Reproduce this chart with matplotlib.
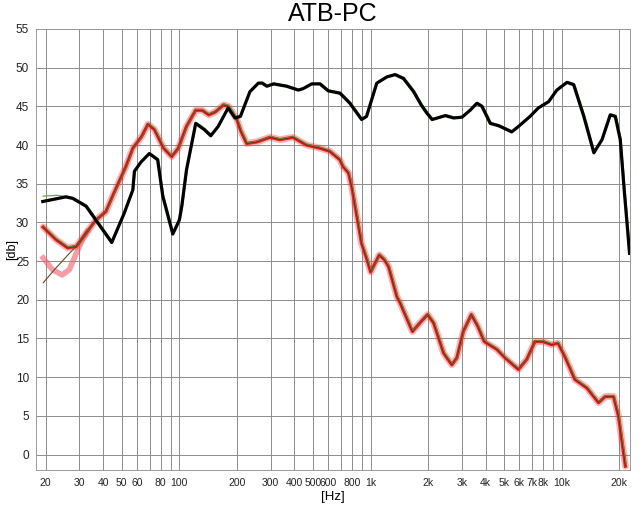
import matplotlib
matplotlib.use("Agg")
import matplotlib.pyplot as plt
import matplotlib.transforms as mtransforms
from matplotlib.ticker import FixedLocator, NullFormatter

plt.rcParams["font.family"] = ["Liberation Sans", "DejaVu Sans"]

# black curve (upper)
black_f = [19.3, 25.5, 27.7, 32.5, 36.6, 44.3, 51.5, 57.1, 58.2, 63, 69.6, 77, 81.9,
           92.4, 100, 103, 109, 121.8, 135, 146, 159.6, 180, 195.5, 208.6, 234, 259,
           271, 287, 311, 364, 419, 445, 492, 544, 601, 692, 780, 898, 953, 1078, 1217,
           1344, 1487, 1680, 1839, 1974, 2100, 2463, 2720, 3010, 3320, 3600, 3825, 4230,
           4670, 5480, 5940, 6830, 7550, 8540, 9430, 10650, 11550, 13050, 14730, 16250,
           17950, 19070, 20240, 21230, 22640]
black_db = [32.7, 33.3, 33.1, 32.1, 30.3, 27.4, 31.2, 34.2, 36.6, 37.8, 38.9, 38.1, 33.4,
            28.5, 30.3, 32.1, 36.8, 42.8, 42.0, 41.2, 42.4, 44.8, 43.5, 43.7, 46.9, 48.0,
            48.0, 47.6, 47.9, 47.6, 47.1, 47.3, 47.9, 47.9, 47.0, 46.7, 45.4, 43.3, 43.7,
            48.0, 48.8, 49.1, 48.6, 46.9, 45.2, 44.1, 43.3, 43.8, 43.5, 43.6, 44.5, 45.4,
            45.0, 42.8, 42.5, 41.7, 42.4, 43.7, 44.8, 45.6, 47.1, 48.1, 47.8, 43.7, 39.0,
            40.7, 43.9, 43.7, 40.7, 34.2, 26.0]

# red curve (lower)
red_f = [19.4, 22.6, 26.1, 28.9, 32.5, 36.6, 41.3, 45.5, 52.5, 57.2, 63.5, 68.6, 74.1,
         82.8, 91.3, 98.8, 109, 121.8, 131.8, 142.7, 154.5, 170.6, 181, 200, 210, 225,
         254, 298, 336, 393, 463, 544, 612, 692, 719, 767, 798, 849, 898, 953, 1002,
         1112, 1180, 1243, 1375, 1430, 1657, 1840, 1990, 2140, 2415, 2665, 2830, 3060,
         3370, 3640, 3940, 4580, 5060, 5940, 6570, 7250, 8000, 8840, 9570, 10380, 11730,
         13560, 15590, 16890, 18690, 19840, 21550]
red_db = [29.4, 27.8, 26.7, 26.9, 28.6, 30.3, 31.4, 33.8, 37.2, 39.6, 41.1, 42.7, 42.0,
          39.6, 38.5, 39.6, 42.4, 44.5, 44.5, 43.9, 44.3, 45.2, 45.0, 43.3, 41.8, 40.2,
          40.4, 41.0, 40.7, 41.0, 40.0, 39.6, 39.2, 38.1, 37.2, 36.4, 34.6, 30.8, 27.3,
          25.4, 23.6, 25.8, 25.2, 24.3, 20.4, 19.6, 15.9, 17.2, 18.1, 17.0, 13.1, 11.6,
          12.5, 15.9, 18.1, 16.6, 14.6, 13.6, 12.5, 11.0, 12.3, 14.6, 14.6, 14.2, 14.4,
          12.7, 9.7, 8.6, 6.7, 7.5, 7.5, 4.9, -1.5]

# low-frequency branches
pink_f = [19.4, 21.7, 24.4, 26.6, 28.9, 31.2, 33.0]
pink_db = [25.4, 23.9, 23.2, 23.9, 26.0, 27.8, 28.8]
olive_f = [19.4, 22.6, 26.6, 30.0, 33.0]
olive_db = [22.2, 24.1, 26.0, 27.3, 28.8]
green_f = [19.4, 23.0, 26.0, 28.0]
green_db = [33.4, 33.5, 33.3, 33.1]

xticks = [20, 30, 40, 50, 60, 80, 100, 200, 300, 400, 500, 600, 800, 1000,
          2000, 3000, 4000, 5000, 6000, 7000, 8000, 10000, 20000]
xlabels = ["20", "30", "40", "50", "60", "80", "100", "200", "300", "400", "500", "600",
           "800", "1k", "2k", "3k", "4k", "5k", "6k", "7k", "8k", "10k", "20k"]
grid_f = [m * 10 ** e for e in range(1, 5) for m in range(1, 10)]
grid_f = [g for g in grid_f if 18 <= g <= 20000]

fig = plt.figure(figsize=(6.4, 5.05), dpi=100)
ax = fig.add_axes([0.0563, 0.0693, 0.9277, 0.8733])
ax.set_xscale("log")
ax.set_xlim(17.8, 22700)
ax.set_ylim(-2, 55)

ax.xaxis.set_major_locator(FixedLocator(xticks))
ax.xaxis.set_minor_locator(FixedLocator(grid_f))
ax.xaxis.set_minor_formatter(NullFormatter())
ax.set_xticklabels(xlabels)
ax.set_yticks(range(0, 56, 5))
ax.tick_params(axis="both", which="both", length=0, labelsize=7.5, colors="#222222")
ax.tick_params(axis="x", pad=6)
ax.tick_params(axis="y", pad=5, labelsize=8.5)
ax.grid(True, which="both", axis="x", color="#8c8c8c", linewidth=0.7)
ax.grid(True, which="major", axis="y", color="#8c8c8c", linewidth=0.7)
ax.set_axisbelow(True)
for s in ax.spines.values():
    s.set_color("#9a9a9a")
    s.set_linewidth(0.7)

shift = mtransforms.offset_copy(ax.transData, fig=fig, x=0.8, y=0.8, units="dots")

# red group
ax.plot(red_f, red_db, color="#ff3030", lw=5, alpha=0.35, solid_capstyle="round")
ax.plot(pink_f, pink_db, color="#f05a6a", lw=4, alpha=0.6)
ax.plot(red_f, red_db, color="#e82020", lw=2.4)
ax.plot(olive_f, olive_db, color="#6a4a20", lw=0.8)
ax.plot(red_f, red_db, color="#3cae3c", lw=0.6, transform=shift)
ax.plot(red_f, red_db, color="#301010", lw=0.5, alpha=0.6)

# black group
ax.plot(green_f, green_db, color="#5aae3a", lw=0.9)
ax.plot(black_f, black_db, color="#5aae3a", lw=1.0, transform=shift)
ax.plot(black_f, black_db, color="black", lw=2.3)

ax.set_title("ATB-PC", fontsize=18, pad=6)
ax.set_xlabel("[Hz]", fontsize=9.5, labelpad=2)
ax.set_ylabel("[db]", fontsize=9)
ax.yaxis.set_label_coords(-0.03, 0.5)

fig.savefig("out.png", dpi=100)
